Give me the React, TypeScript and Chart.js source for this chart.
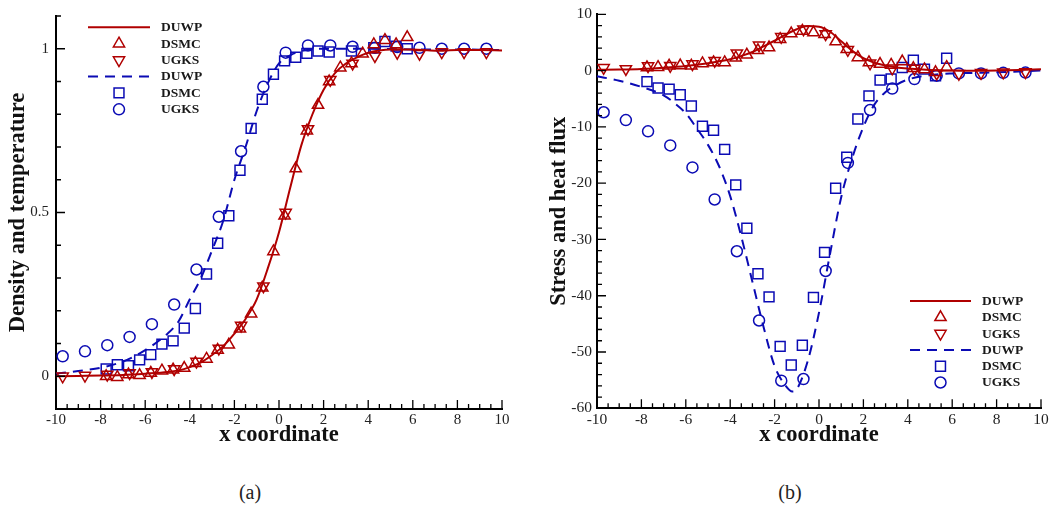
import React, { useEffect, useRef } from 'react';
import { Chart, registerables } from 'chart.js';
import { drawPoint } from 'chart.js/helpers';

Chart.register(...registerables);

const SERIF = '"Liberation Serif", "Times New Roman", serif';
const RED = '#b00000';
const BLUE = '#0b0bb4';

// ---------- sample positions ----------
const DSMC_X = [-7.75, -7.25, -6.75, -6.25, -5.75, -5.25, -4.75, -4.25, -3.75, -3.25, -2.75, -2.25, -1.75, -1.25, -0.75, -0.25, 0.25, 0.75, 1.25, 1.75, 2.25, 2.75, 3.25, 3.75, 4.25, 4.75, 5.25, 5.75];
const UGKS_X = [-9.7, -8.7, -7.7, -6.7, -5.7, -4.7, -3.7, -2.7, -1.7, -0.7, 0.3, 1.3, 2.3, 3.3, 4.3, 5.3, 6.3, 7.3, 8.3, 9.3];

// ---------- (a) density and temperature ----------
const A_RED_DUWP_X = [-10, -9, -8, -7, -6, -5, -4.5, -4, -3.5, -3, -2.5, -2, -1.5, -1, -0.5, 0, 0.5, 1, 1.5, 2, 2.5, 3, 3.5, 4, 4.5, 5, 6, 7, 8, 9, 10];
const A_RED_DUWP_Y = [0, 0.001, 0.002, 0.004, 0.008, 0.013, 0.018, 0.028, 0.042, 0.065, 0.092, 0.13, 0.175, 0.235, 0.33, 0.44, 0.575, 0.705, 0.8, 0.875, 0.925, 0.955, 0.974, 0.988, 0.995, 0.998, 0.998, 0.994, 0.996, 0.996, 0.995];
const A_RED_DSMC_Y = [0.0, -0.003, 0.005, 0.003, 0.01, 0.017, 0.02, 0.025, 0.04, 0.053, 0.08, 0.096, 0.145, 0.191, 0.27, 0.381, 0.49, 0.634, 0.75, 0.828, 0.9, 0.942, 0.955, 0.985, 1.013, 1.026, 1.013, 1.035];
const A_RED_UGKS_Y = [0.0, 0.002, 0.005, 0.01, 0.013, 0.022, 0.045, 0.085, 0.155, 0.275, 0.5, 0.755, 0.905, 0.955, 0.978, 0.988, 0.985, 0.99, 0.99, 0.99];

const A_BLUE_DUWP_X = [-10, -9, -8, -7, -6, -5, -4.5, -4, -3.5, -3, -2.5, -2, -1.5, -1, -0.5, 0, 0.5, 1, 2, 3, 4, 5, 6, 7, 8, 9, 10];
const A_BLUE_DUWP_Y = [0.008, 0.016, 0.026, 0.045, 0.08, 0.13, 0.168, 0.235, 0.3, 0.385, 0.475, 0.6, 0.7, 0.81, 0.895, 0.955, 0.98, 0.993, 1.0, 1.0, 1.0, 0.999, 0.998, 0.998, 0.998, 0.997, 0.996];
const A_BLUE_DSMC_X = [-7.75, -7.25, -6.75, -6.25, -5.75, -5.25, -4.75, -4.25, -3.75, -3.25, -2.75, -2.25, -1.75, -1.25, -0.75, -0.25, 0.25, 0.75, 1.25, 1.75, 2.25, 3.25, 4.25, 4.75, 5.25, 5.75];
const A_BLUE_DSMC_Y = [0.022, 0.035, 0.032, 0.05, 0.066, 0.098, 0.108, 0.147, 0.207, 0.312, 0.406, 0.49, 0.629, 0.757, 0.846, 0.922, 0.963, 0.974, 0.986, 0.993, 0.99, 0.993, 1.003, 1.022, 1.008, 1.0];
const A_BLUE_UGKS_Y = [0.061, 0.076, 0.095, 0.12, 0.159, 0.219, 0.326, 0.487, 0.687, 0.884, 0.988, 1.01, 1.01, 1.006, 1.003, 1.005, 1.003, 1.0, 1.0, 1.0];

const A_X_TICKS = [-10, -8, -6, -4, -2, 0, 2, 4, 6, 8, 10];
const A_Y_TICKS = [0, 0.5, 1];

// ---------- (b) stress and heat flux ----------
const B_RED_DUWP_X = [-10, -9, -8, -7, -6, -5, -4.5, -4, -3.5, -3, -2.5, -2, -1.5, -1, -0.5, 0, 0.5, 1, 1.5, 2, 2.5, 3, 3.5, 4, 5, 6, 7, 8, 9, 10];
const B_RED_DUWP_Y = [0.15, 0.2, 0.3, 0.5, 0.8, 1.3, 1.65, 2.0, 2.6, 3.3, 4.3, 5.3, 6.4, 7.35, 7.9, 7.8, 6.9, 5.2, 3.5, 2.2, 1.4, 0.9, 0.55, 0.35, 0.1, 0.0, -0.05, 0.0, 0.1, 0.25];
const B_RED_DSMC_Y = [0.56, 0.6, 0.85, 0.9, 0.85, 1.26, 1.44, 1.44, 2.3, 2.8, 3.6, 4.09, 5.57, 6.57, 7.05, 6.75, 6.46, 5.16, 3.8, 2.33, 1.44, 1.15, 1.0, 1.6, 0.4, 0.2, -0.3, 0.6];
const B_RED_UGKS_Y = [0.5, 0.3, 0.8, 0.85, 1.15, 1.75, 3.1, 4.5, 6.0, 7.35, 6.5, 3.7, 1.3, 0.4, 0.35, -0.5, -0.55, -0.4, -0.3, -0.25];

const B_BLUE_DUWP_X = [-10, -9, -8, -7, -6.5, -6, -5.5, -5, -4.5, -4, -3.5, -3, -2.5, -2, -1.5, -1.2, -1, -0.5, 0, 0.5, 1, 1.5, 2, 2.5, 3, 3.5, 4, 5, 6, 7, 8, 9, 10];
const B_BLUE_DUWP_Y = [-1.0, -1.8, -2.9, -4.4, -5.8, -7.6, -10.3, -13.2, -17.0, -22.3, -29.5, -37.5, -45.5, -52.5, -56.0, -57.0, -56.6, -51.5, -43.0, -32.5, -22.5, -15.5, -10.0, -6.0, -3.8, -2.5, -1.6, -0.8, -0.5, -0.4, -0.3, -0.15, 0];
const B_BLUE_DSMC_Y = [-1.96, -3.1, -3.3, -4.3, -6.3, -9.9, -10.6, -14.0, -20.3, -28.0, -36.1, -40.2, -49.0, -52.3, -48.8, -40.3, -32.3, -20.9, -15.4, -8.6, -4.5, -1.7, -1.5, 0.55, 1.86, 0.26, -0.92, 2.2];
const B_BLUE_UGKS_Y = [-7.4, -8.8, -10.8, -13.3, -17.2, -22.9, -32.1, -44.4, -55.1, -54.8, -35.6, -16.4, -7.0, -3.2, -1.5, -0.9, -0.5, -0.5, -0.4, -0.35];

const B_X_TICKS = [-10, -8, -6, -4, -2, 0, 2, 4, 6, 8, 10];
const B_Y_TICKS = [10, 0, -10, -20, -30, -40, -50, -60];

const LABELS = ['DUWP', 'DSMC', 'UGKS'];

const pts = (xs: number[], ys: number[]) => xs.map((x, i) => ({ x, y: ys[i] }));

function lineDs(label: string, xs: number[], ys: number[], color: string, dash: number[]) {
  return {
    label, data: pts(xs, ys), showLine: true, borderColor: color, backgroundColor: color,
    borderWidth: 2, borderDash: dash, pointRadius: 0, pointHoverRadius: 0,
    cubicInterpolationMode: 'monotone', fill: false, clip: false,
  };
}
function markDs(label: string, xs: number[], ys: number[], color: string, style: string, radius: number, rotation: number) {
  return {
    label, data: pts(xs, ys), showLine: false, pointStyle: style, pointRadius: radius,
    pointHoverRadius: radius, pointRotation: rotation, borderColor: color, pointBorderColor: color,
    backgroundColor: 'rgba(0,0,0,0)', pointBackgroundColor: 'rgba(0,0,0,0)',
    borderWidth: 1.5, pointBorderWidth: 1.5, clip: false,
  };
}

const decorPlugin = {
  id: 'decor',
  afterDraw(chart: any, _a: any, o: any) {
    const ctx = chart.ctx;
    const xs = chart.scales.x;
    const ys = chart.scales.y;
    const { left, bottom } = chart.chartArea;
    ctx.save();
    ctx.strokeStyle = '#000';
    ctx.lineWidth = 1.3;
    ctx.beginPath();
    const nx = Math.round((xs.max - xs.min) / o.minorX);
    for (let i = 0; i <= nx; i++) {
      const v = xs.min + i * o.minorX;
      const r = v / o.majorX;
      const major = Math.abs(r - Math.round(r)) < 1e-6;
      const p = xs.getPixelForValue(v);
      ctx.moveTo(p, bottom);
      ctx.lineTo(p, bottom - (major ? 9 : 5));
    }
    const ny = Math.round((ys.max - ys.min) / o.minorY);
    for (let i = 0; i <= ny; i++) {
      const v = ys.min + i * o.minorY;
      const r = v / o.majorY;
      const major = Math.abs(r - Math.round(r)) < 1e-6;
      const p = ys.getPixelForValue(v);
      ctx.moveTo(left, p);
      ctx.lineTo(left + (major ? 9 : 5), p);
    }
    ctx.stroke();
    ctx.restore();

    const L = o.legend;
    chart.data.datasets.forEach((ds: any, i: number) => {
      const y = L.y0 + i * L.dy;
      ctx.save();
      ctx.strokeStyle = ds.borderColor;
      if (ds.showLine) {
        ctx.lineWidth = ds.borderWidth;
        ctx.setLineDash(ds.borderDash || []);
        ctx.beginPath();
        ctx.moveTo(L.x0, y);
        ctx.lineTo(L.x1, y);
        ctx.stroke();
      } else {
        ctx.fillStyle = 'rgba(0,0,0,0)';
        ctx.lineWidth = ds.pointBorderWidth;
        drawPoint(ctx, { pointStyle: ds.pointStyle, rotation: ds.pointRotation || 0, radius: ds.pointRadius, borderWidth: ds.pointBorderWidth } as any, (L.x0 + L.x1) / 2, y);
      }
      ctx.restore();
      ctx.save();
      ctx.fillStyle = '#1a1a1a';
      ctx.font = `bold 13.5px ${SERIF}`;
      ctx.textBaseline = 'middle';
      ctx.textAlign = 'left';
      ctx.fillText(ds.label, L.tx, y + 0.5);
      ctx.restore();
    });
  },
};

function makeChart(canvas: HTMLCanvasElement, spec: any) {
  return new Chart(canvas, {
    type: 'scatter',
    data: { datasets: spec.datasets },
    options: {
      responsive: false,
      animation: false,
      events: [],
      layout: { padding: { left: 0, top: spec.padTop, right: spec.padRight, bottom: 0 } },
      plugins: {
        legend: { display: false },
        tooltip: { enabled: false },
        decor: spec.decor,
      } as any,
      scales: {
        x: {
          type: 'linear', min: spec.xMin, max: spec.xMax,
          afterBuildTicks: (s: any) => { s.ticks = spec.xTicks.map((v: number) => ({ value: v })); },
          afterFit: (s: any) => { s.height = spec.xHeight; },
          grid: { display: false, drawTicks: false },
          border: { display: true, color: '#000', width: 2 },
          ticks: {
            padding: 2, color: '#222', maxRotation: 0, autoSkip: false,
            font: { family: SERIF, size: spec.tickSize },
            callback: (v: any) => String(v),
          },
          title: {
            display: true, text: 'x coordinate', color: '#111',
            font: { family: SERIF, size: 22.5, weight: 'bold' },
            padding: { top: 0, bottom: 11.5 },
          },
        },
        y: {
          type: 'linear', min: spec.yMin, max: spec.yMax,
          afterBuildTicks: (s: any) => { s.ticks = spec.yTicks.map((v: number) => ({ value: v })); },
          afterFit: (s: any) => { s.width = spec.yWidth; },
          grid: { display: false, drawTicks: false },
          border: { display: true, color: '#000', width: 2 },
          ticks: {
            padding: spec.yTickPad, color: '#222', autoSkip: false,
            font: { family: SERIF, size: spec.tickSize },
            callback: (v: any) => String(v),
          },
          title: {
            display: true, text: spec.yTitle, color: '#111',
            font: { family: SERIF, size: 22.5, weight: 'bold' },
            padding: { top: spec.yTitlePad, bottom: 0 },
          },
        },
      } as any,
    },
    plugins: [decorPlugin as any],
  });
}

export default function App() {
  const refA = useRef<HTMLCanvasElement>(null);
  const refB = useRef<HTMLCanvasElement>(null);

  useEffect(() => {
    const a = makeChart(refA.current!, {
      datasets: [
        lineDs(LABELS[0], A_RED_DUWP_X, A_RED_DUWP_Y, RED, []),
        markDs(LABELS[1], DSMC_X, A_RED_DSMC_Y, RED, 'triangle', 6.5, 0),
        markDs(LABELS[2], UGKS_X, A_RED_UGKS_Y, RED, 'triangle', 6.5, 180),
        lineDs(LABELS[0], A_BLUE_DUWP_X, A_BLUE_DUWP_Y, BLUE, [10, 7]),
        markDs(LABELS[1], A_BLUE_DSMC_X, A_BLUE_DSMC_Y, BLUE, 'rect', 7, 0),
        markDs(LABELS[2], UGKS_X, A_BLUE_UGKS_Y, BLUE, 'circle', 5.5, 0),
      ],
      padTop: 13, padRight: 18, xHeight: 51, yWidth: 56,
      xMin: -10, xMax: 10, yMin: -0.1, yMax: 1.1,
      xTicks: A_X_TICKS, yTicks: A_Y_TICKS,
      tickSize: 15, yTickPad: 7, yTitlePad: 5,
      yTitle: 'Density and temperature',
      decor: {
        minorX: 0.5, majorX: 2, minorY: 0.1, majorY: 0.5,
        legend: { x0: 88, x1: 150, tx: 161, y0: 27.3, dy: 16.4 },
      },
    });
    const b = makeChart(refB.current!, {
      datasets: [
        lineDs(LABELS[0], B_RED_DUWP_X, B_RED_DUWP_Y, RED, []),
        markDs(LABELS[1], DSMC_X, B_RED_DSMC_Y, RED, 'triangle', 6.5, 0),
        markDs(LABELS[2], UGKS_X, B_RED_UGKS_Y, RED, 'triangle', 6.5, 180),
        lineDs(LABELS[0], B_BLUE_DUWP_X, B_BLUE_DUWP_Y, BLUE, [10, 7]),
        markDs(LABELS[1], DSMC_X, B_BLUE_DSMC_Y, BLUE, 'rect', 7, 0),
        markDs(LABELS[2], UGKS_X, B_BLUE_UGKS_Y, BLUE, 'circle', 5.5, 0),
      ],
      padTop: 13.5, padRight: 12, xHeight: 51.7, yWidth: 77,
      xMin: -10, xMax: 10, yMin: -60, yMax: 10,
      xTicks: B_X_TICKS, yTicks: B_Y_TICKS,
      tickSize: 15.5, yTickPad: 5, yTitlePad: 25.5,
      yTitle: 'Stress and heat flux',
      decor: {
        minorX: 0.5, majorX: 2, minorY: 2, majorY: 10,
        legend: { x0: 390, x1: 451, tx: 462, y0: 301, dy: 16.3 },
      },
    });
    return () => { a.destroy(); b.destroy(); };
  }, []);

  const cap: React.CSSProperties = {
    position: 'absolute', top: 480, width: 100, textAlign: 'center',
    fontFamily: SERIF, fontSize: 20, lineHeight: '24px', color: '#222',
  };

  return (
    <div style={{ position: 'absolute', left: 0, top: 0, width: 1053, height: 506, background: '#fff', overflow: 'hidden' }}>
      <canvas ref={refA} width={520} height={460} style={{ position: 'absolute', left: 0, top: 0, display: 'block' }} />
      <canvas ref={refB} width={533} height={460} style={{ position: 'absolute', left: 520, top: 0, display: 'block' }} />
      <div style={{ ...cap, left: 200 }}>(a)</div>
      <div style={{ ...cap, left: 740 }}>(b)</div>
    </div>
  );
}
